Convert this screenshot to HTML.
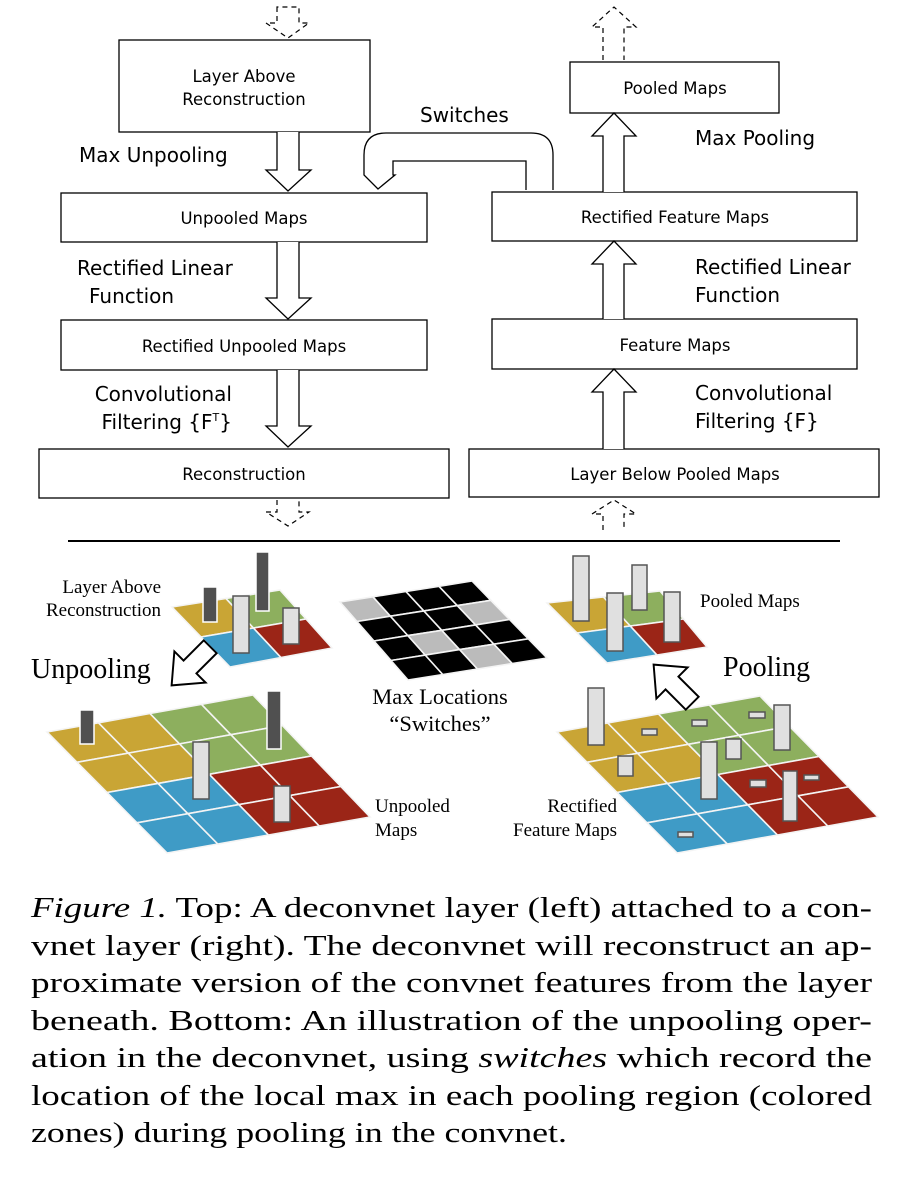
<!DOCTYPE html>
<html><head><meta charset="utf-8"><style>
html,body{margin:0;padding:0;background:#fff;}
svg{display:block}
.s{font-family:"DejaVu Sans","Liberation Sans",sans-serif;}
.r{font-family:"Liberation Serif",serif;}
</style></head><body>
<svg id="sv" width="910" height="1192" viewBox="0 0 910 1192" xmlns="http://www.w3.org/2000/svg">
<g fill="#fff" stroke="#000" stroke-width="1.3">
<rect x="119" y="40" width="251" height="92"/>
<rect x="61" y="193" width="366" height="49"/>
<rect x="61" y="320" width="366" height="50"/>
<rect x="39" y="449" width="410" height="49"/>
<rect x="570" y="62" width="209" height="51"/>
<rect x="492" y="192" width="365" height="49"/>
<rect x="492" y="319" width="365" height="50"/>
<rect x="469" y="449" width="410" height="48"/>
<path d="M277 132 V170 H266 L288 191 L311 170 H299 V132"/>
<path d="M277 242 V298 H266 L288 319 L311 298 H299 V242"/>
<path d="M277 370 V426 H266 L288 447 L311 426 H299 V370"/>
<path d="M603 192 V136 H592 L614 113 L636 136 H624 V192"/>
<path d="M603 319 V264 H592 L614 241 L636 264 H624 V319"/>
<path d="M603 449 V392 H592 L614 369 L636 392 H624 V449"/>
<path d="M553 190 V155 Q553 133 531 133 H386 Q364 133 364 155 V175 L378 189 L395 175 H393 V161 H526 V190"/>
</g>
<g fill="none" stroke="#000" stroke-width="1.2" stroke-dasharray="5,4">
<path d="M277 7 V23 H266 L288 38 L309 23 H299 V7 Z"/>
<path d="M603 60 V27 H592 L614 7 L636 27 H624 V60"/>
<path d="M277 500 V512 H266 L288 526 L309 512 H299 V500"/>
<path d="M603 530 V514 H592 L614 500 L636 514 H624 V530"/>
</g>
<g class="s" font-size="16.5" text-anchor="middle" fill="#000">
<text x="244" y="82">Layer Above</text>
<text x="244" y="105">Reconstruction</text>
<text x="244" y="224">Unpooled Maps</text>
<text x="244" y="352">Rectified Unpooled Maps</text>
<text x="244" y="480">Reconstruction</text>
<text x="675" y="94">Pooled Maps</text>
<text x="675" y="223">Rectified Feature Maps</text>
<text x="675" y="351">Feature Maps</text>
<text x="675" y="480">Layer Below Pooled Maps</text>
</g>
<g class="s" font-size="20" fill="#000">
<text x="420" y="122">Switches</text>
<text x="79" y="162">Max Unpooling</text>
<text x="77" y="275">Rectified Linear</text>
<text x="89" y="303">Function</text>
<text x="232" y="401" text-anchor="end">Convolutional</text>
<text x="232" y="429" text-anchor="end">Filtering {F<tspan font-size="11" dy="-8">T</tspan><tspan dy="8">}</tspan></text>
<text x="695" y="145">Max Pooling</text>
<text x="695" y="274">Rectified Linear</text>
<text x="695" y="302">Function</text>
<text x="695" y="400">Convolutional</text>
<text x="695" y="428">Filtering {F}</text>
</g>
<line x1="68" y1="541" x2="840" y2="541" stroke="#000" stroke-width="2"/>
<g id="grids"></g>
<g id="bars"></g>
<g fill="#fff" stroke="#000" stroke-width="1.5">
<path transform="translate(190,667) rotate(45) scale(1.3)" d="M-7 -22 V0 H-17 L0 20 L17 0 H7 V-22 Z"/>
<path transform="translate(672,683) rotate(-45) scale(1.3)" d="M-7 22 V0 H-17 L0 -20 L17 0 H7 V22 Z"/>
</g>
<g class="r" fill="#000" font-size="19">
<text x="161" y="593" text-anchor="end">Layer Above</text>
<text x="161" y="616" text-anchor="end">Reconstruction</text>
<text x="700" y="607">Pooled Maps</text>
<text x="375" y="812">Unpooled</text>
<text x="375" y="836">Maps</text>
<text x="617" y="812" text-anchor="end">Rectified</text>
<text x="617" y="836" text-anchor="end">Feature Maps</text>
</g>
<g class="r" fill="#000" font-size="22.5" text-anchor="middle">
<text x="440" y="704">Max Locations</text>
<text x="440" y="731">“Switches”</text>
</g>
<g class="r" fill="#000" font-size="28">
<text x="31" y="678">Unpooling</text>
<text x="723" y="676">Pooling</text>
</g>
<g class="r" fill="#000" font-size="29">
<text x="31" y="917" textLength="841" lengthAdjust="spacingAndGlyphs"><tspan font-style="italic">Figure 1.</tspan> Top: A deconvnet layer (left) attached to a con-</text>
<text x="31" y="955" textLength="841" lengthAdjust="spacingAndGlyphs">vnet layer (right). The deconvnet will reconstruct an ap-</text>
<text x="31" y="992" textLength="841" lengthAdjust="spacingAndGlyphs">proximate version of the convnet features from the layer</text>
<text x="31" y="1030" textLength="841" lengthAdjust="spacingAndGlyphs">beneath. Bottom: An illustration of the unpooling oper-</text>
<text x="31" y="1067" textLength="841" lengthAdjust="spacingAndGlyphs">ation in the deconvnet, using <tspan font-style="italic">switches</tspan> which record the</text>
<text x="31" y="1105" textLength="841" lengthAdjust="spacingAndGlyphs">location of the local max in each pooling region (colored</text>
<text x="31" y="1142" textLength="536" lengthAdjust="spacingAndGlyphs">zones) during pooling in the convnet.</text>
</g>
</svg>
<script>
(function(){
var NS="http://www.w3.org/2000/svg";
var G=document.getElementById("grids"),B=document.getElementById("bars");
var Y="#C9A535",Gr="#8DAF5E",Bl="#3F9BC6",R="#9B2517",K="#000",S="#bbb";
function P(A,Bp,C,D,u,v){return [A[0]+(Bp[0]-A[0])*u+(D[0]-A[0])*v+(A[0]-Bp[0]+C[0]-D[0])*u*v,
 A[1]+(Bp[1]-A[1])*u+(D[1]-A[1])*v+(A[1]-Bp[1]+C[1]-D[1])*u*v];}
function grid(A,Bp,C,D,n,col){
 for(var r=0;r<n;r++)for(var c=0;c<n;c++){
  var p=[P(A,Bp,C,D,c/n,r/n),P(A,Bp,C,D,(c+1)/n,r/n),P(A,Bp,C,D,(c+1)/n,(r+1)/n),P(A,Bp,C,D,c/n,(r+1)/n)];
  var e=document.createElementNS(NS,"polygon");
  e.setAttribute("points",p.map(function(q){return q[0].toFixed(1)+","+q[1].toFixed(1)}).join(" "));
  e.setAttribute("fill",col(r,c));e.setAttribute("stroke","#f4f4f4");e.setAttribute("stroke-width","1.6");
  G.appendChild(e);}
}
function q4(r,c,h){var top=r<h,left=c<h;return top?(left?Y:Gr):(left?Bl:R);}
grid([172,607],[280,590],[332,648],[230,667],2,function(r,c){return q4(r,c,1)});
grid([47,732],[253,695],[370,817],[167,853],4,function(r,c){return q4(r,c,2)});
grid([547,603],[660,591],[707,647],[607,663],2,function(r,c){return q4(r,c,1)});
grid([557,732],[760,696],[878,817],[677,853],4,function(r,c){return q4(r,c,2)});
var gray={"0,0":1,"1,3":1,"2,1":1,"3,2":1};
grid([340,602],[472,581],[547,658],[408,680],4,function(r,c){return gray[r+","+c]?S:K});
function bar(x1,y1,x2,y2,dark){var e=document.createElementNS(NS,"rect");
 e.setAttribute("x",x1);e.setAttribute("y",y1);e.setAttribute("width",x2-x1);e.setAttribute("height",y2-y1);
 e.setAttribute("fill",dark?"#505050":"#e0e0e0");e.setAttribute("stroke",dark?"#fff":"#555");e.setAttribute("stroke-width","1.5");B.appendChild(e);}
bar(203,587,217,622,1);bar(256,552,269,611,1);bar(233,596,249,653,0);bar(283,608,299,644,0);
bar(80,710,94,744,1);bar(267,691,281,749,1);bar(193,742,209,799,0);bar(274,786,290,822,0);
bar(573,556,589,621,0);bar(632,565,647,610,0);bar(607,593,623,651,0);bar(664,592,680,642,0);
bar(588,688,604,745,0);bar(642,729,657,735,0);bar(692,720,707,726,0);bar(749,712,765,718,0);
bar(774,705,790,750,0);bar(618,756,633,776,0);bar(726,739,741,759,0);bar(701,742,717,799,0);
bar(750,780,766,787,0);bar(804,775,819,780,0);bar(783,771,797,821,0);bar(678,832,693,837,0);
})();
</script>
</body></html>
